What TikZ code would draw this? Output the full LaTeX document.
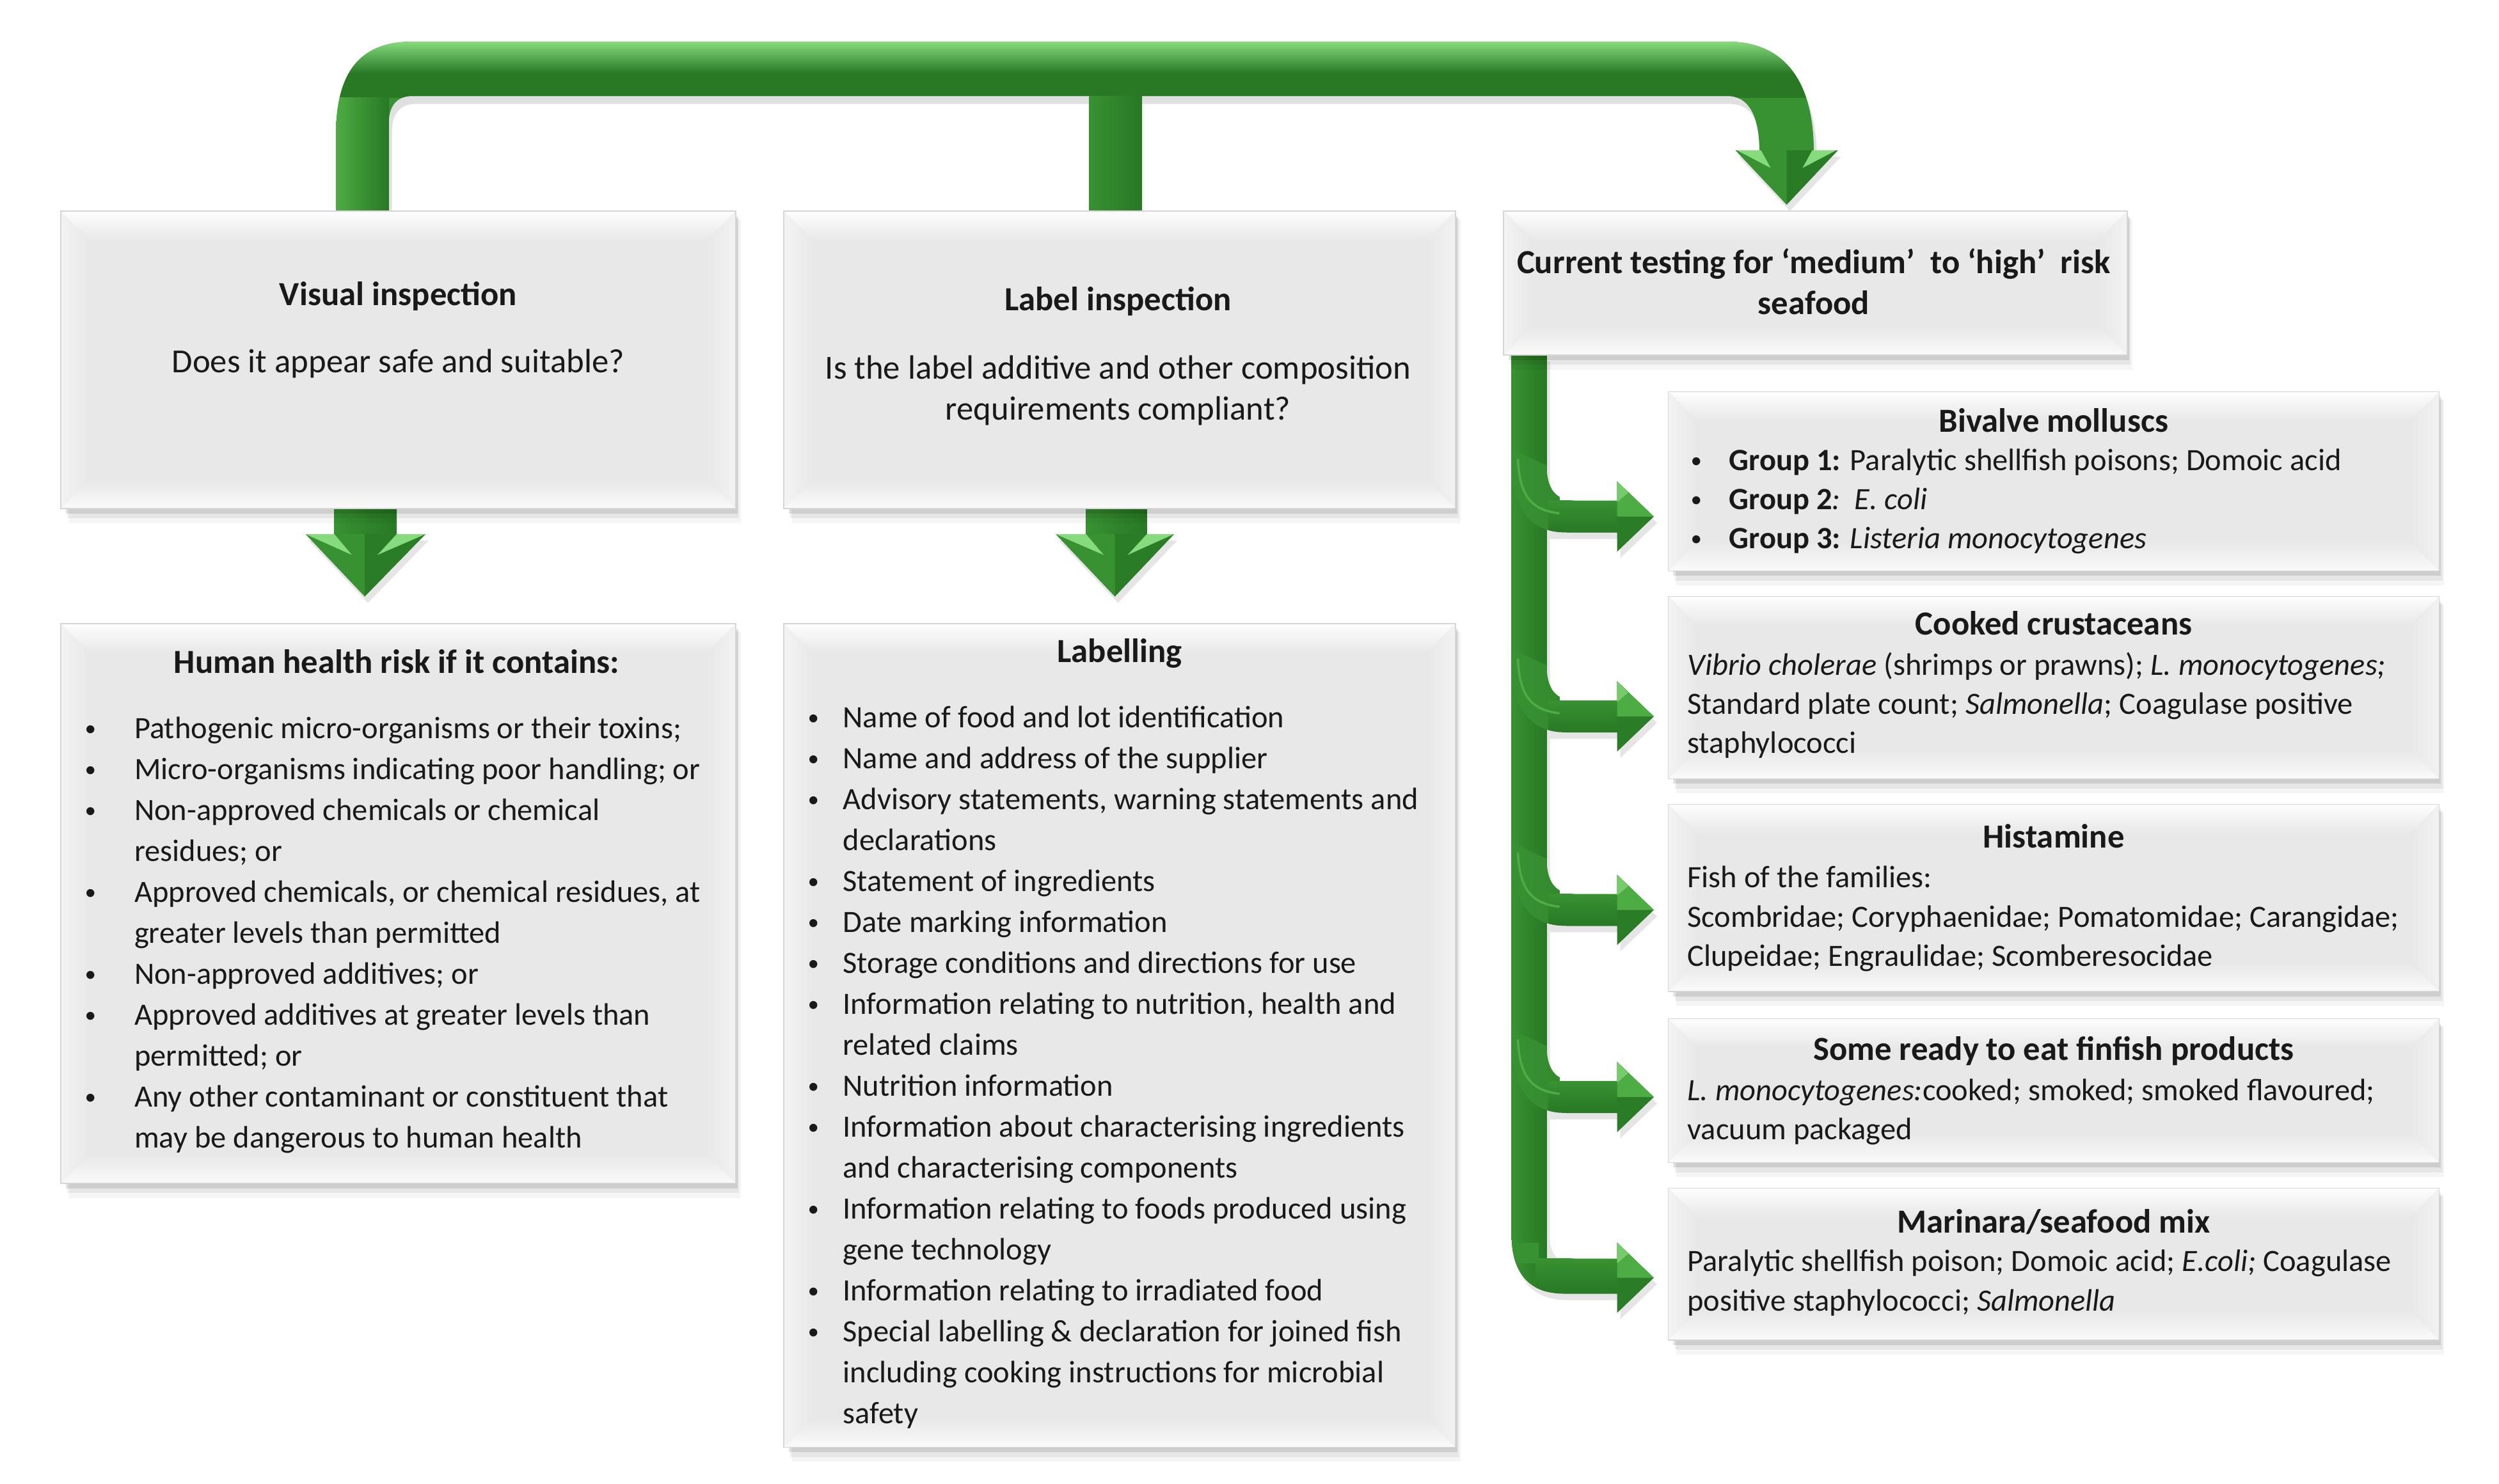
\documentclass[tikz,border=0pt]{standalone}
\usepackage{fontspec}
\setmainfont{Carlito}
\usetikzlibrary{fit}
\definecolor{gD}{RGB}{40,120,36}
\definecolor{gM}{RGB}{56,146,50}
\definecolor{gH}{RGB}{78,172,68}
\definecolor{gL}{RGB}{135,218,125}
\definecolor{boxc}{RGB}{232,232,232}
\definecolor{bevT}{RGB}{253,253,253}
\definecolor{bevL}{RGB}{243,243,243}
\definecolor{bevR}{RGB}{242,242,242}
\definecolor{bevB}{RGB}{250,250,250}
\newcommand{\smbul}{\raisebox{1.1pt}{\fontsize{10}{10}\selectfont •}}
\newcommand{\bulH}{\makebox[.775cm][l]{\smbul}}
\newcommand{\indH}{\makebox[.775cm]{}}
\newcommand{\bulL}{\makebox[.55cm][l]{\smbul}}
\newcommand{\indL}{\makebox[.55cm]{}}
\newcommand{\bulR}{\makebox[.6cm][l]{\smbul}}
\newcommand{\bevbox}[5]{%
 \fill[black,opacity=0.04] (#2+5,#3+5) rectangle (#4+3,#5+9);
 \fill[black,opacity=0.06] (#2+4,#3+4) rectangle (#4+2,#5+6);
 \fill[black,opacity=0.10] (#2+3,#3+3) rectangle (#4+1,#5+3);
 \node[boxfit, fill=boxc, fit={(#2,#3) (#4,#5)}] (#1) {};
 \shade[top color=bevT,bottom color=boxc] (#2,#3) -- (#4,#3) -- (#4-18,#3+18) -- (#2+18,#3+18) -- cycle;
 \shade[left color=bevL,right color=boxc] (#2,#3) -- (#2+18,#3+18) -- (#2+18,#5-18) -- (#2,#5) -- cycle;
 \shade[left color=boxc,right color=bevR] (#4,#3) -- (#4-18,#3+18) -- (#4-18,#5-18) -- (#4,#5) -- cycle;
 \shade[top color=boxc,bottom color=bevB] (#2,#5) -- (#2+18,#5-18) -- (#4-18,#5-18) -- (#4,#5) -- cycle;
 \draw[black!16, line width=0.5pt] (#1.north west) rectangle (#1.south east);
}
\begin{document}
\begin{tikzpicture}[x=0.025cm,y=-0.025cm,
  txt/.style={inner sep=0pt, outer sep=0pt, text=black!90, font=\fontsize{13.8}{18.2}\selectfont},
  qtxt/.style={txt, font=\fontsize{15}{18.2}\selectfont},
  rtxt/.style={txt, font=\fontsize{13.8}{17.4}\selectfont},
  ttl/.style={txt, font=\fontsize{15}{18.2}\selectfont\bfseries, anchor=base},
  boxfit/.style={inner sep=0pt, outer sep=0pt}
]
\fill[white] (0,0) rectangle (1562.4,927.6);
\useasboundingbox (0,0) rectangle (1562.4,927.6);

% ---------- top bent arrow ----------
\fill[black,opacity=0.12,shift={(2,5)}] (210,132) -- (210,85) .. controls (210,45) and (225,26) .. (258,26) -- (1080,26) .. controls (1115,26) and (1134,50) .. (1134,95) -- (1100,95) .. controls (1100,72) and (1093,60) .. (1080,60) -- (258,60) .. controls (248,60) and (243,66) .. (243,78) -- (243,132) -- cycle;
\begin{scope}
 \clip (210,132) -- (210,85) .. controls (210,45) and (225,26) .. (258,26) -- (1080,26) .. controls (1115,26) and (1134,50) .. (1134,95) -- (1100,95) .. controls (1100,72) and (1093,60) .. (1080,60) -- (258,60) .. controls (248,60) and (243,66) .. (243,78) -- (243,132) -- cycle;
 \fill[gM] (200,20) rectangle (1160,135);
 \shade[top color=gL,bottom color=gD] (200,26) rectangle (1160,46);
 \fill[gD] (200,46) rectangle (1160,61);
 \shade[left color=gH,right color=gD] (210,61) rectangle (243,135);
\end{scope}
\shade[left color=gM,right color=gD] (681,60) rectangle (714,132);
\fill[black,opacity=0.10,shift={(2,4)}] (1085,94) -- (1149,94) -- (1117,128) -- cycle;
\fill[gM] (1085,94) -- (1149,94) -- (1117,128) -- cycle;
\fill[gD!90!gM] (1117,94) -- (1149,94) -- (1117,128) -- cycle;
\fill[gL] (1086,94) -- (1101,94) -- (1107,105) -- cycle;
\fill[gL] (1148,94) -- (1133,94) -- (1127,105) -- cycle;

% ---------- down arrows ----------
\fill[black,opacity=0.10,shift={(2,4)}] (191,334) -- (266,334) -- (228,373) -- cycle;
\shade[left color=gM,right color=gD] (209,315) rectangle (248,335);
\fill[gM] (191,334) -- (266,334) -- (228,373) -- cycle;
\fill[gD!85!gM] (228,334) -- (266,334) -- (228,373) -- cycle;
\fill[gL] (191,334) -- (209,334) -- (220,347) -- cycle;
\fill[gL] (266,334) -- (248,334) -- (236,347) -- cycle;

\fill[black,opacity=0.10,shift={(2,4)}] (660,334) -- (734,334) -- (697,373) -- cycle;
\shade[left color=gM,right color=gD] (679,315) rectangle (717,335);
\fill[gM] (660,334) -- (734,334) -- (697,373) -- cycle;
\fill[gD!85!gM] (697,334) -- (734,334) -- (697,373) -- cycle;
\fill[gL] (660,334) -- (679,334) -- (690,347) -- cycle;
\fill[gL] (734,334) -- (717,334) -- (705,347) -- cycle;

% ---------- right vertical bar ----------
\fill[black,opacity=0.10,shift={(2,4)}] (945,222) -- (945,772) .. controls (945,795) and (955,809) .. (978,809) -- (1012,809) -- (1012,787) -- (985,787) .. controls (972,787) and (967,780) .. (967,770) -- (967,222) -- cycle;
\begin{scope}
 \clip (945,222) -- (945,772) .. controls (945,795) and (955,809) .. (978,809) -- (1012,809) -- (1012,787) -- (985,787) .. controls (972,787) and (967,780) .. (967,770) -- (967,222) -- cycle;
 \shade[left color=gM,right color=gD] (945,215) rectangle (967,815);
 \shade[top color=gM,middle color=gL,bottom color=gD] (960,787) rectangle (1012,809);
 \fill[gM] (945,777) rectangle (962,790);
\end{scope}
\foreach \t/\nm in {323/br1,448/br2,569/br3,686/br4}{
 \fill[black,opacity=0.10,shift={(2,4)}] (967,\t-30) .. controls (967,\t-18) and (972,\t-10) .. (985,\t-10) -- (1012,\t-10) -- (1012,\t+10) -- (967,\t+10) -- cycle;
 \begin{scope}
  \clip (945,\t-42) .. controls (945,\t-5) and (955,\t+10) .. (980,\t+10) -- (1012,\t+10) -- (1012,\t-10) -- (985,\t-10) .. controls (972,\t-10) and (967,\t-18) .. (967,\t-32) -- cycle;
  \shade[left color=gM,right color=gM!70!gD] (945,\t-45) rectangle (975,\t+12);
  \shade[top color=gM,middle color=gL,bottom color=gD] (968,\t-10) rectangle (1012,\t+10);
 \end{scope}
 \draw[gH, line width=1pt] (949,\t-36) .. controls (950,\t-12) and (958,\t-4) .. (975,\t-2);
 \coordinate (\nm) at (1034,\t);
}
\foreach \t in {323,448,569,686,799}{
 \fill[black,opacity=0.10,shift={(2,4)}] (1011,\t-22) -- (1034,\t) -- (1011,\t+22) -- cycle;
 \fill[gD!85!gM] (1011,\t-22) -- (1034,\t) -- (1011,\t+22) -- cycle;
 \fill[gH] (1011,\t-22) -- (1034,\t) -- (1011,\t) -- cycle;
 \fill[gL!70!gH] (1011,\t-22) -- (1018,\t-15) -- (1011,\t-9) -- cycle;
}

% ---------- boxes ----------
\bevbox{v}{38}{132}{460}{318}
\bevbox{l}{490}{132}{910}{318}
\bevbox{c}{940}{132}{1330}{222}
\bevbox{h}{38}{390}{460}{740}
\bevbox{lab}{490}{390}{910}{905}
\bevbox{b1}{1043}{245}{1525}{357}
\bevbox{b2}{1043}{373}{1525}{487}
\bevbox{b3}{1043}{503}{1525}{620}
\bevbox{b4}{1043}{637}{1525}{727}
\bevbox{b5}{1043}{743}{1525}{838}

% ---------- texts ----------
\node[ttl] (vT) at (249,191) {Visual inspection};
\node[qtxt, anchor=base] (vQ) at (249,233) {Does it appear safe and suitable?};

\node[ttl] (lT) at (699,194) {Label inspection};
\node[qtxt, anchor=north, align=center] (lQ) at (699,219) {\strut Is the label additive and other composition\\ requirements compliant?};

\node[qtxt, anchor=north, align=center, font=\fontsize{15}{18.2}\selectfont\bfseries] (cT) at (1134,153) {\strut Current testing for ‘medium’\ \ to ‘high’\ \ risk\\ seafood};

\node[ttl] (hT) at (248,421) {Human health risk if it contains:};
\node[txt, anchor=north west, align=left] (hL) at (53,444) {\strut\bulH Pathogenic micro-organisms or their toxins;\\
\bulH Micro-organisms indicating poor handling; or\\
\bulH Non-approved chemicals or chemical\\
\indH residues; or\\
\bulH Approved chemicals, or chemical residues, at\\
\indH greater levels than permitted\\
\bulH Non-approved additives; or\\
\bulH Approved additives at greater levels than\\
\indH permitted; or\\
\bulH Any other contaminant or constituent that\\
\indH may be dangerous to human health};

\node[ttl] (labT) at (700,414) {Labelling};
\node[txt, anchor=north west, align=left] (labL) at (505,437) {\strut\bulL Name of food and lot identification\\
\bulL Name and address of the supplier\\
\bulL Advisory statements, warning statements and\\
\indL declarations\\
\bulL Statement of ingredients\\
\bulL Date marking information\\
\bulL Storage conditions and directions for use\\
\bulL Information relating to nutrition, health and\\
\indL related claims\\
\bulL Nutrition information\\
\bulL Information about characterising ingredients\\
\indL and characterising components\\
\bulL Information relating to foods produced using\\
\indL gene technology\\
\bulL Information relating to irradiated food\\
\bulL Special labelling \& declaration for joined fish\\
\indL including cooking instructions for microbial\\
\indL safety};

\node[ttl] (b1T) at (1284,270) {Bivalve molluscs};
\node[rtxt, anchor=north west, align=left] (b1L) at (1057,277) {\strut\bulR\textbf{Group 1:} Paralytic shellfish poisons; Domoic acid\\
\bulR\textbf{Group 2}\textit{:}\ \ \textit{E. coli}\\
\bulR\textbf{Group 3:} \textit{Listeria monocytogenes}};

\node[ttl] (b2T) at (1284,397) {Cooked crustaceans};
\node[rtxt, anchor=north west, align=left] (b2L) at (1055,405) {\strut\textit{Vibrio cholerae} (shrimps or prawns); \textit{L. monocytogenes;}\\
Standard plate count; \textit{Salmonella}; Coagulase positive\\
staphylococci};

\node[ttl] (b3T) at (1284,530) {Histamine};
\node[rtxt, anchor=north west, align=left] (b3L) at (1055,538) {\strut Fish of the families:\\
Scombridae; Coryphaenidae; Pomatomidae; Carangidae;\\
Clupeidae; Engraulidae; Scomberesocidae};

\node[ttl] (b4T) at (1284,663) {Some ready to eat finfish products};
\node[rtxt, anchor=north west, align=left] (b4L) at (1055,671) {\strut\textit{L. monocytogenes:}cooked; smoked; smoked flavoured;\\
vacuum packaged};

\node[ttl] (b5T) at (1284,771) {Marinara/seafood mix};
\node[rtxt, anchor=north west, align=left] (b5L) at (1055,778) {\strut Paralytic shellfish poison; Domoic acid; \textit{E.coli;} Coagulase\\
positive staphylococci; \textit{Salmonella}};
\end{tikzpicture}
\end{document}
